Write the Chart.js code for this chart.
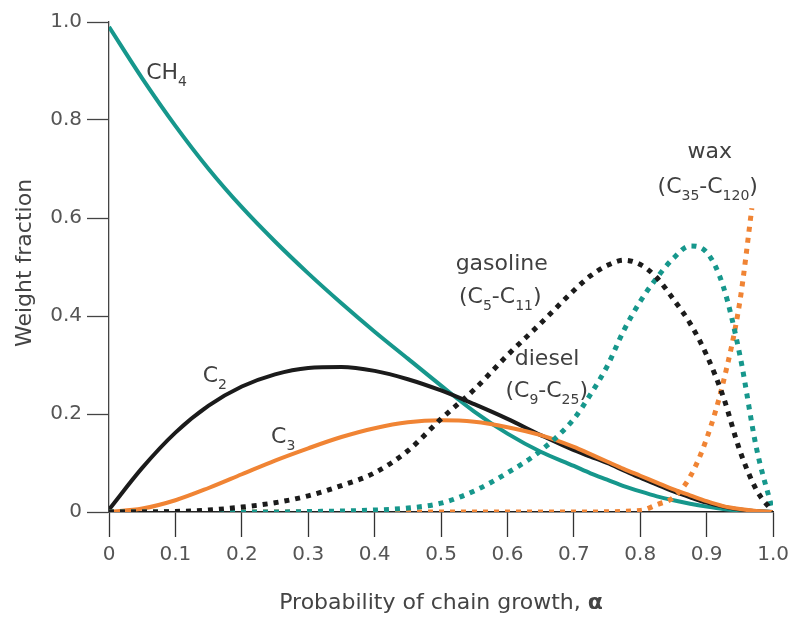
<!DOCTYPE html>
<html>
<head>
<meta charset="utf-8">
<script src="https://cdn.jsdelivr.net/npm/chart.js@4.4.1/dist/chart.umd.min.js"></script>
<style>
  html, body { margin: 0; padding: 0; background: #fff; }
  #wrap { width: 795px; height: 618px; }
</style>
</head>
<body>
<div id="wrap"><canvas id="asf" width="795" height="618"></canvas></div>
<script>
// probability of chain growth (x) and weight fractions
const alpha = [0, 0.05, 0.1, 0.15, 0.2, 0.25, 0.3, 0.35, 0.4, 0.45, 0.5, 0.55, 0.6, 0.65, 0.7,
  0.725, 0.75, 0.775, 0.8, 0.825, 0.85, 0.875, 0.9, 0.925, 0.95, 0.975, 1.0];

const ch4 = [0.99, 0.885, 0.788, 0.70, 0.622, 0.552, 0.487, 0.426, 0.368, 0.313, 0.258, 0.205, 0.16, 0.123, 0.094,
  0.079, 0.066, 0.053, 0.042, 0.032, 0.024, 0.017, 0.011, 0.006, 0.003, 0.001, 0];
const c2 = [0.005, 0.09, 0.162, 0.217, 0.256, 0.281, 0.294, 0.296, 0.288, 0.271, 0.248, 0.22, 0.19, 0.157, 0.126,
  0.113, 0.1, 0.085, 0.07, 0.056, 0.042, 0.03, 0.019, 0.011, 0.005, 0.0015, 0];
const c3 = [0, 0.007, 0.024, 0.049, 0.077, 0.105, 0.13, 0.153, 0.171, 0.183, 0.187, 0.184, 0.173, 0.157, 0.133,
  0.118, 0.103, 0.088, 0.074, 0.06, 0.046, 0.034, 0.022, 0.012, 0.006, 0.002, 0];
const gasoline = [0, 0, 0.001, 0.004, 0.01, 0.019, 0.033, 0.054, 0.08, 0.125, 0.19, 0.25, 0.32, 0.385, 0.452,
  0.482, 0.503, 0.514, 0.505, 0.478, 0.434, 0.385, 0.32, 0.235, 0.125, 0.045, 0];
const diesel = [0, 0, 0, 0, 0, 0, 0.001, 0.002, 0.004, 0.008, 0.018, 0.043, 0.08, 0.125, 0.19,
  0.24, 0.297, 0.37, 0.43, 0.478, 0.518, 0.543, 0.53, 0.46, 0.32, 0.13, 0];

// the wax curve stops short of alpha = 1
const waxAlpha = [0, 0.1, 0.2, 0.3, 0.4, 0.5, 0.6, 0.7, 0.8, 0.825, 0.85, 0.875, 0.9, 0.925, 0.95, 0.968];
const wax = [0, 0, 0, 0, 0, 0, 0, 0, 0.003, 0.015, 0.03, 0.072, 0.15, 0.265, 0.43, 0.62];

const xTickLabels = ['0', '0.1', '0.2', '0.3', '0.4', '0.5', '0.6', '0.7', '0.8', '0.9', '1.0'];
const yTickLabels = ['0', '0.2', '0.4', '0.6', '0.8', '1.0'];

const TEAL = '#16978c';
const ORANGE = '#f08434';
const BLACK = '#1b1b1b';
const FONT = 'DejaVu Sans';

function pts(xs, ys) {
  return xs.map((x, i) => ({ x: x, y: ys[i] }));
}

function solid(label, xs, ys, color) {
  return {
    label: label, data: pts(xs, ys), borderColor: color, borderWidth: 4,
    pointRadius: 0, cubicInterpolationMode: 'monotone', fill: false
  };
}

function dotted(label, xs, ys, color) {
  return {
    label: label, data: pts(xs, ys), borderColor: color, borderWidth: 5,
    borderDash: [5, 6], borderCapStyle: 'butt',
    pointRadius: 0, cubicInterpolationMode: 'monotone', fill: false
  };
}

// curve labels, anchored in data units (left edge, baseline); pieces: [text, isSubscript]
const curveLabels = [
  { a: 0.056, w: 0.884, parts: [['CH', 0], ['4', 1]] },
  { a: 0.141, w: 0.265, parts: [['C', 0], ['2', 1]] },
  { a: 0.244, w: 0.140, parts: [['C', 0], ['3', 1]] },
  { a: 0.522, w: 0.493, parts: [['gasoline', 0]] },
  { a: 0.527, w: 0.426, parts: [['(C', 0], ['5', 1], ['-C', 0], ['11', 1], [')', 0]] },
  { a: 0.611, w: 0.299, parts: [['diesel', 0]] },
  { a: 0.597, w: 0.234, parts: [['(C', 0], ['9', 1], ['-C', 0], ['25', 1], [')', 0]] },
  { a: 0.871, w: 0.723, parts: [['wax', 0]] },
  { a: 0.826, w: 0.652, parts: [['(C', 0], ['35', 1], ['-C', 0], ['120', 1], [')', 0]] }
];

const textPlugin = {
  id: 'asfText',
  afterDraw(chart) {
    const ctx = chart.ctx;
    const xs = chart.scales.x, ys = chart.scales.y;
    ctx.save();
    ctx.textBaseline = 'alphabetic';
    ctx.textAlign = 'left';
    ctx.fillStyle = '#404040';
    curveLabels.forEach(l => {
      let x = xs.getPixelForValue(l.a);
      const y = ys.getPixelForValue(l.w);
      l.parts.forEach(p => {
        ctx.font = p[1] ? '14px "' + FONT + '"' : '22px "' + FONT + '"';
        ctx.fillText(p[0], x, p[1] ? y + 7 : y);
        x += ctx.measureText(p[0]).width;
      });
    });

    // axis titles (alpha in bold, like the original)
    ctx.fillStyle = '#444';
    const main = 'Probability of chain growth, ';
    ctx.font = '22px "' + FONT + '"';
    const w1 = ctx.measureText(main).width;
    ctx.font = 'bold 22px "' + FONT + '"';
    const w2 = ctx.measureText('\u03b1').width;
    const cx = (chart.chartArea.left + chart.chartArea.right) / 2;
    const tx = cx - (w1 + w2) / 2;
    ctx.textBaseline = 'middle';
    ctx.font = '22px "' + FONT + '"';
    ctx.fillText(main, tx, 603);
    ctx.font = 'bold 22px "' + FONT + '"';
    ctx.fillText('\u03b1', tx + w1, 603);

    ctx.translate(25, 263);
    ctx.rotate(-Math.PI / 2);
    ctx.textAlign = 'center';
    ctx.font = '22px "' + FONT + '"';
    ctx.fillText('Weight fraction', 0, 0);
    ctx.restore();
  }
};

new Chart(document.getElementById('asf'), {
  type: 'line',
  data: {
    datasets: [
      dotted('gasoline (C5-C11)', alpha, gasoline, BLACK),
      dotted('diesel (C9-C25)', alpha, diesel, TEAL),
      dotted('wax (C35-C120)', waxAlpha, wax, ORANGE),
      solid('C3', alpha, c3, ORANGE),
      solid('C2', alpha, c2, BLACK),
      solid('CH4', alpha, ch4, TEAL)
    ]
  },
  options: {
    responsive: false,
    animation: false,
    layout: { padding: { top: 22, right: 20, left: 0, bottom: 0 } },
    plugins: { legend: { display: false }, tooltip: { enabled: false } },
    scales: {
      x: {
        type: 'linear', min: 0, max: 1,
        afterFit: s => { s.height = 106; },
        ticks: {
          stepSize: 0.1, padding: 6, color: '#555', maxRotation: 0,
          font: { family: FONT, size: 20 },
          callback: (v, i) => xTickLabels[i]
        },
        grid: { drawOnChartArea: false, tickLength: 25, tickColor: '#333', tickWidth: 1.3 },
        border: { color: '#222', width: 1.5 }
      },
      y: {
        min: 0, max: 1,
        afterFit: s => { s.width = 109; },
        ticks: {
          stepSize: 0.2, padding: 5, color: '#555',
          font: { family: FONT, size: 20 },
          callback: (v, i) => yTickLabels[i]
        },
        grid: { drawOnChartArea: false, tickLength: 22, tickColor: '#444', tickWidth: 1.3 },
        border: { color: '#444', width: 1.3 }
      }
    }
  },
  plugins: [textPlugin]
});
</script>
</body>
</html>
